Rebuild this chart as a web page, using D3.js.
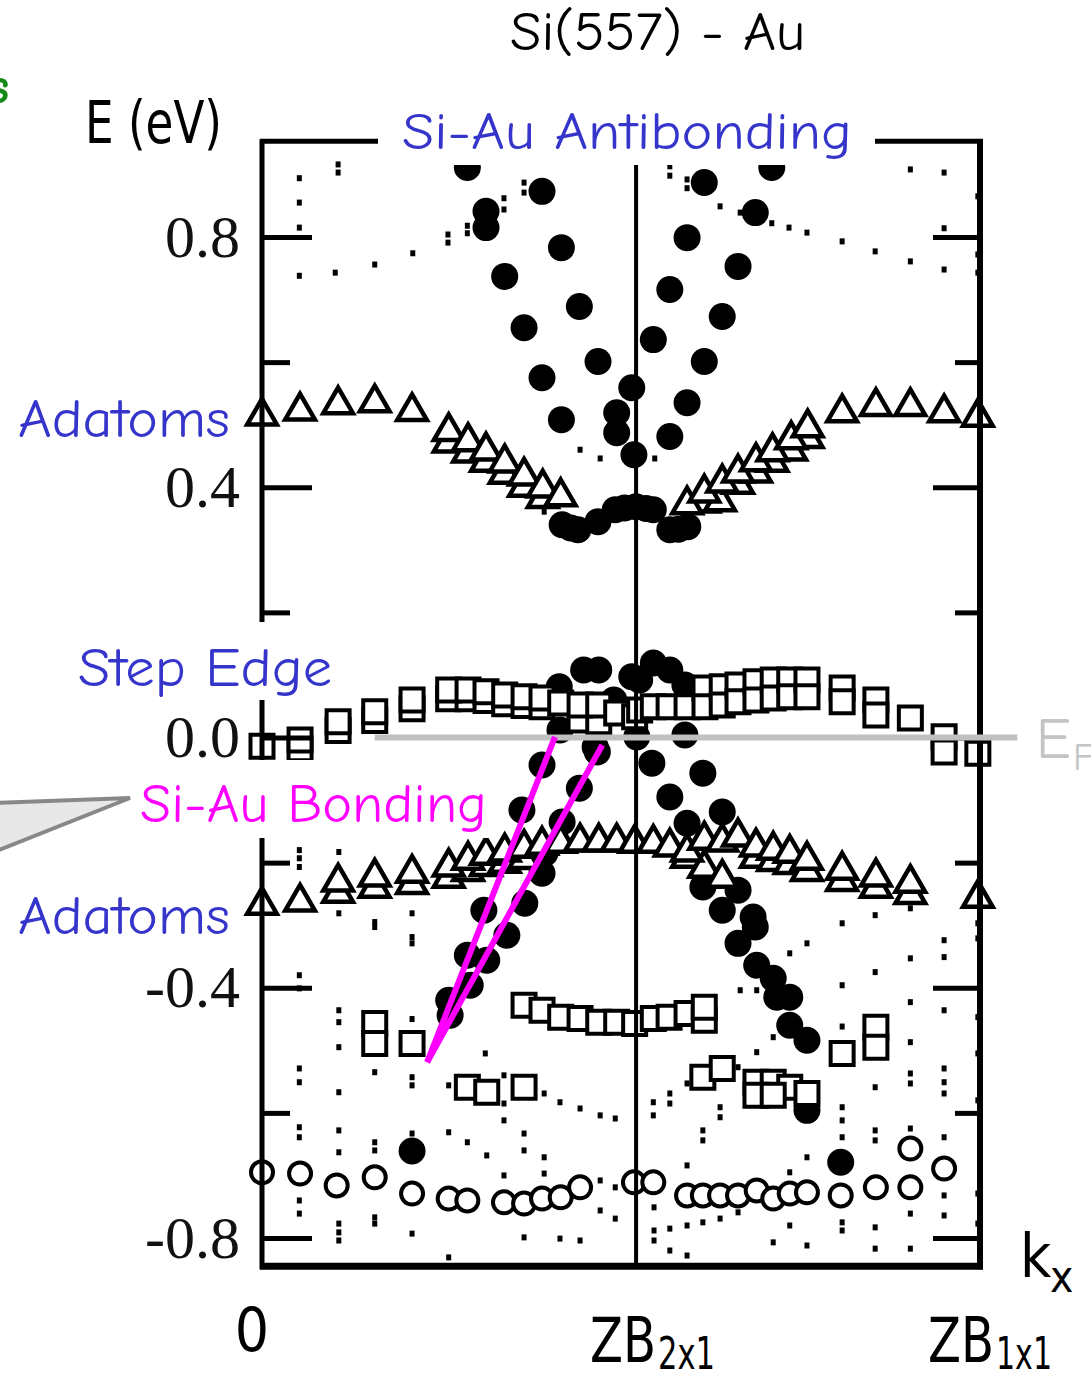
<!DOCTYPE html>
<html>
<head>
<meta charset="utf-8">
<script src="https://cdn.jsdelivr.net/npm/d3@7"></script>
<style>
  body { margin: 0; background: #fff; }
</style>
</head>
<body>
<div id="chart"></div>
<script>
// band points: [k (ZB1x1 = 1), E (eV)]
const antibonding = [
  [0.286,0.911],[0.312,0.841],[0.312,0.815],[0.390,0.873],[0.417,0.783],[0.338,0.737],
  [0.442,0.689],[0.365,0.655],[0.468,0.601],[0.390,0.575],[0.417,0.508],[0.515,0.559],
  [0.494,0.519],[0.494,0.487],[0.518,0.452],
  [0.710,0.911],[0.616,0.887],[0.687,0.839],[0.592,0.799],[0.663,0.753],[0.568,0.716],
  [0.641,0.673],[0.545,0.636],[0.616,0.601],[0.592,0.535],[0.568,0.481]
];
const antibondingMin = [
  [0.418,0.340],[0.430,0.335],[0.440,0.332],[0.468,0.345],[0.492,0.364],[0.505,0.367],
  [0.521,0.369],[0.535,0.366],[0.545,0.364],[0.568,0.332],[0.580,0.333],[0.593,0.337]
];
const bondingTop = [
  [0.414,0.081],[0.448,0.108],[0.469,0.108],[0.490,0.060],[0.515,0.097],[0.526,0.092],
  [0.545,0.119],[0.568,0.108],[0.589,0.084],[0.415,0.012],[0.464,-0.015],[0.522,0.001],
  [0.589,0.004]
];
const bondingLeft = [
  [0.390,-0.044],[0.362,-0.116],[0.309,-0.276],[0.286,-0.348],[0.290,-0.396],[0.260,-0.420],
  [0.262,-0.444],
  [0.467,-0.023],[0.442,-0.081],[0.418,-0.135],[0.394,-0.185],[0.390,-0.217],[0.366,-0.265],
  [0.341,-0.316],[0.313,-0.356]
];
const bondingRight = [
  [0.543,-0.041],[0.614,-0.057],[0.568,-0.095],[0.641,-0.119],[0.592,-0.137],[0.614,-0.239],
  [0.663,-0.244],[0.641,-0.276],[0.684,-0.287],[0.687,-0.303],[0.663,-0.329],[0.689,-0.364],
  [0.712,-0.385],[0.717,-0.415],[0.735,-0.415],[0.735,-0.460],[0.759,-0.484],[0.759,-0.596]
];
const filledSingles = [[0.209,-0.661],[0.806,-0.679]];

const adatomUpper = [
  [0,0.514],[0.053,0.522],[0.106,0.532],[0.157,0.535],[0.209,0.521],
  [0.260,0.471],[0.287,0.455],[0.312,0.440],[0.338,0.421],[0.365,0.400],[0.391,0.382],
  [0.260,0.489],[0.287,0.473],[0.312,0.458],[0.338,0.439],[0.365,0.418],[0.391,0.399],[0.416,0.385],
  [0.616,0.375],[0.638,0.377],[0.663,0.405],[0.688,0.423],[0.711,0.440],[0.737,0.458],[0.760,0.478],
  [0.592,0.372],[0.616,0.391],[0.641,0.407],[0.663,0.423],[0.688,0.441],[0.711,0.457],[0.737,0.476],
  [0.760,0.495],[0.808,0.519],[0.855,0.529],[0.903,0.529],[0.950,0.519],[0.997,0.512]
];
const adatomLower = [
  [0.106,-0.249],[0.157,-0.241],[0.209,-0.235],[0.260,-0.225],[0.287,-0.214],[0.312,-0.206],
  [0.338,-0.201],[0.365,-0.195],[0.592,-0.193],[0.616,-0.209],[0.641,-0.225],[0.688,-0.193],
  [0.712,-0.198],[0.735,-0.203],[0.759,-0.214],[0.808,-0.230],[0.855,-0.241],[0.903,-0.251],
  [0,-0.268],[0.053,-0.263],[0.106,-0.231],[0.157,-0.223],[0.209,-0.217],[0.260,-0.207],
  [0.287,-0.196],[0.312,-0.188],[0.338,-0.183],[0.365,-0.177],[0.390,-0.172],[0.416,-0.169],
  [0.443,-0.167],[0.469,-0.167],[0.494,-0.167],[0.519,-0.169],
  [0.545,-0.169],[0.568,-0.175],[0.592,-0.183],[0.616,-0.164],[0.641,-0.167],[0.663,-0.159],
  [0.688,-0.175],[0.712,-0.180],[0.735,-0.185],[0.759,-0.196],[0.808,-0.212],[0.855,-0.223],
  [0.903,-0.233],[0.997,-0.257]
];

const stepEdge = [
  [0.053,-0.018],[0.106,0.011],[0.157,0.027],[0.209,0.046],[0.260,0.062],[0.287,0.062],
  [0.312,0.059],[0.338,0.054],[0.365,0.051],[0.390,0.049],[0.443,0.028],[0.469,0.025],
  [0,-0.014],[0.053,-0.004],[0.106,0.025],[0.157,0.041],[0.209,0.060],[0.260,0.076],
  [0.287,0.076],[0.312,0.073],[0.338,0.068],[0.365,0.065],[0.390,0.063],[0.416,0.055],
  [0.443,0.052],[0.469,0.052],[0.494,0.039],[0.519,0.033],
  [0.526,0.044],[0.545,0.049],[0.567,0.049],[0.592,0.049],[0.617,0.079],[0.617,0.049],
  [0.641,0.081],[0.641,0.052],[0.663,0.084],[0.663,0.057],[0.688,0.089],[0.688,0.060],
  [0.712,0.092],[0.712,0.063],[0.735,0.092],[0.735,0.065],[0.759,0.092],[0.759,0.065],
  [0.808,0.079],[0.808,0.057],[0.855,0.060],[0.855,0.036],[0.903,0.031],[0.950,0.001],
  [0.950,-0.023],[0.997,-0.025]
];
const lowerSquares = [
  [0.157,-0.457],[0.157,-0.489],[0.209,-0.489],[0.365,-0.428],[0.390,-0.436],[0.416,-0.447],
  [0.443,-0.449],[0.469,-0.455],[0.494,-0.455],[0.519,-0.457],[0.545,-0.449],[0.567,-0.447],
  [0.592,-0.441],[0.616,-0.452],[0.616,-0.431],[0.808,-0.505],[0.855,-0.463],[0.855,-0.495],
  [0.286,-0.559],[0.313,-0.567],[0.365,-0.559],[0.614,-0.543],[0.641,-0.529],[0.688,-0.551],
  [0.712,-0.551],[0.735,-0.559],[0.759,-0.569],[0.688,-0.572],[0.712,-0.572]
];
const openCircles = [
  [0,-0.695],[0.053,-0.697],[0.104,-0.716],[0.157,-0.703],[0.209,-0.729],[0.260,-0.737],
  [0.286,-0.740],[0.337,-0.743],[0.365,-0.745],[0.390,-0.737],[0.416,-0.735],[0.443,-0.719],
  [0.518,-0.711],[0.545,-0.711],[0.592,-0.732],[0.614,-0.732],[0.638,-0.732],[0.663,-0.732],
  [0.689,-0.724],[0.712,-0.737],[0.735,-0.729],[0.759,-0.727],[0.806,-0.732],[0.855,-0.719],
  [0.903,-0.719],[0.903,-0.657],[0.950,-0.689]
];
const bulkDots = [
  [0.052,0.894],[0.052,0.855],[0.052,0.815],[0.052,0.738],[0.106,0.916],[0.106,0.903],
  [0.102,0.743],[0.157,0.756],[0.210,0.774],[0.259,0.804],[0.259,0.791],[0.286,0.818],
  [0.286,0.806],[0.337,0.862],[0.337,0.844],[0.365,0.887],[0.365,0.871],[0.443,0.460],
  [0.471,0.446],[0.393,0.361],[0.568,0.913],[0.568,0.898],[0.592,0.892],[0.592,0.878],
  [0.638,0.849],[0.666,0.839],[0.710,0.822],[0.734,0.815],[0.759,0.807],[0.808,0.793],
  [0.854,0.777],[0.903,0.761],[0.950,0.748],[0.903,0.908],[0.950,0.903],[0.997,0.865],
  [0.950,0.814],[0.997,0.772],[0.997,0.743],[0.547,0.446],
  [0.052,-0.180],[0.052,-0.193],[0.052,-0.207],[0.107,-0.183],[0.107,-0.281],[0.209,-0.281],
  [0.157,-0.295],[0.157,-0.303],[0.209,-0.319],[0.209,-0.329],[0.052,-0.380],[0.052,-0.401],
  [0.107,-0.436],[0.107,-0.455],[0.107,-0.495],[0.209,-0.450],[0.052,-0.529],[0.052,-0.551],
  [0.107,-0.567],[0.157,-0.535],[0.209,-0.543],[0.209,-0.556],[0.052,-0.623],[0.052,-0.639],
  [0.107,-0.628],[0.107,-0.663],[0.157,-0.647],[0.157,-0.660],[0.209,-0.633],[0.260,-0.631],
  [0.286,-0.647],[0.313,-0.668],[0.337,-0.612],[0.337,-0.585],[0.365,-0.633],[0.365,-0.660],
  [0.393,-0.569],[0.415,-0.583],[0.443,-0.593],[0.471,-0.604],[0.492,-0.609],[0.393,-0.671],
  [0.337,-0.700],[0.393,-0.697],[0.471,-0.708],[0.492,-0.719],[0.471,-0.756],[0.492,-0.769],
  [0.052,-0.740],[0.052,-0.761],[0.107,-0.777],[0.107,-0.791],[0.107,-0.804],[0.157,-0.767],
  [0.157,-0.777],[0.209,-0.793],[0.365,-0.799],[0.415,-0.801],[0.443,-0.804],[0.260,-0.831],
  [0.311,-0.505],[0.337,-0.540],[0.260,-0.556],
  [0.808,-0.297],[0.854,-0.284],[0.903,-0.273],[0.950,-0.324],[0.950,-0.351],[0.903,-0.353],
  [0.854,-0.375],[0.808,-0.396],[0.759,-0.329],[0.735,-0.345],[0.903,-0.423],[0.950,-0.436],
  [0.808,-0.462],[0.903,-0.487],[0.950,-0.529],[0.950,-0.551],[0.950,-0.569],[0.903,-0.537],
  [0.903,-0.553],[0.854,-0.559],[0.808,-0.591],[0.808,-0.612],[0.808,-0.639],[0.854,-0.628],
  [0.854,-0.644],[0.903,-0.625],[0.950,-0.639],[0.759,-0.671],[0.735,-0.695],[0.712,-0.479],
  [0.689,-0.503],[0.666,-0.404],[0.689,-0.404],[0.663,-0.527],[0.638,-0.591],[0.638,-0.607],
  [0.614,-0.628],[0.614,-0.644],[0.592,-0.684],[0.568,-0.569],[0.568,-0.585],[0.545,-0.583],
  [0.545,-0.604],[0.592,-0.553],[0.546,-0.751],[0.568,-0.785],[0.592,-0.780],[0.614,-0.775],
  [0.638,-0.769],[0.546,-0.788],[0.546,-0.804],[0.568,-0.820],[0.592,-0.828],[0.663,-0.759],
  [0.735,-0.780],[0.712,-0.807],[0.759,-0.812],[0.808,-0.775],[0.808,-0.788],[0.854,-0.783],
  [0.854,-0.817],[0.903,-0.761],[0.903,-0.817],[0.950,-0.732],[0.950,-0.764],[0.997,-0.297],
  [0.997,-0.321],[0.997,-0.447],[0.997,-0.505],[0.997,-0.580],[0.997,-0.729],[0.997,-0.777]
];

// magenta guide lines for the Si-Au bonding band
const bondingGuides = [
  [[0.230,-0.519],[0.408,0.001]],
  [[0.230,-0.519],[0.474,-0.012]]
];
const fermiLine = [[0.157,0],[1.052,0]];

const majorTicks = [-0.8,-0.4,0,0.4,0.8];
const minorTicks = [-0.6,-0.2,0.2,0.6];
const kDomain = [0, 1];
const eRange = [-0.845, 0.953];
const zb2x1 = 0.521;

const W = 1091, H = 1376;
const comic = "'Comic Sans MS','Comic Neue','DejaVu Sans',sans-serif";
const gill = "'Gill Sans','Liberation Sans Narrow','DejaVu Sans Condensed','Roboto',sans-serif";
const blue = "#3535cc";

const svg = d3.select("#chart").append("svg")
  .attr("width", W).attr("height", H);

const x = d3.scaleLinear().domain(kDomain).range([262, 980]);
const y = d3.scaleLinear().domain([-0.8, 0.8]).range([1238, 237]);

const plot = svg.append("g");

// bulk projected bands (small dots)
plot.selectAll(".dot").data(bulkDots).enter().append("rect")
  .attr("x", d => x(d[0]) - 2.5).attr("y", d => y(d[1]) - 3)
  .attr("width", 5).attr("height", 6).attr("fill", "#000");

// filled circles
const filled = antibonding.concat(antibondingMin, bondingTop, bondingLeft, bondingRight, filledSingles);
plot.selectAll(".fc").data(filled).enter().append("circle")
  .attr("cx", d => x(d[0])).attr("cy", d => y(d[1])).attr("r", 13.5)
  .attr("fill", "#000");

// squares
const sq = d3.symbol().type(d3.symbolSquare).size(23 * 23);
plot.selectAll(".sq").data(stepEdge.concat(lowerSquares)).enter().append("path")
  .attr("d", sq).attr("transform", d => `translate(${x(d[0])},${y(d[1])})`)
  .attr("fill", "#fff").attr("stroke", "#000").attr("stroke-width", 4);

// triangles
const tri = d3.symbol().type(d3.symbolTriangle).size(380);
plot.selectAll(".tri").data(adatomUpper.concat(adatomLower)).enter().append("path")
  .attr("d", tri).attr("transform", d => `translate(${x(d[0])},${y(d[1])})`)
  .attr("fill", "#fff").attr("stroke", "#000").attr("stroke-width", 4.5);

// open circles
plot.selectAll(".oc").data(openCircles).enter().append("circle")
  .attr("cx", d => x(d[0])).attr("cy", d => y(d[1])).attr("r", 11)
  .attr("fill", "#fff").attr("stroke", "#000").attr("stroke-width", 4);

// ZB 2x1 line
plot.append("line")
  .attr("x1", x(zb2x1)).attr("x2", x(zb2x1))
  .attr("y1", y(eRange[1])).attr("y2", y(eRange[0]))
  .attr("stroke", "#000").attr("stroke-width", 4);

// frame
const fx0 = x(kDomain[0]), fx1 = x(kDomain[1]), fy0 = y(eRange[1]), fy1 = y(eRange[0]);
plot.append("line").attr("x1", fx0).attr("x2", fx0).attr("y1", fy0 - 2).attr("y2", fy1 + 3)
  .attr("stroke", "#000").attr("stroke-width", 5);
plot.append("line").attr("x1", fx1).attr("x2", fx1).attr("y1", fy0 - 2).attr("y2", fy1 + 3)
  .attr("stroke", "#000").attr("stroke-width", 6);
plot.append("line").attr("x1", fx0 - 2).attr("x2", fx1 + 3).attr("y1", fy0).attr("y2", fy0)
  .attr("stroke", "#000").attr("stroke-width", 5);
plot.append("line").attr("x1", fx0 - 2).attr("x2", fx1 + 3).attr("y1", fy1).attr("y2", fy1)
  .attr("stroke", "#000").attr("stroke-width", 7);

// axes: ticks point inward
const fmt = d => d3.format(".1f")(d).replace("\u2212", "-");
const leftMajor = svg.append("g").attr("transform", `translate(${fx0},0)`)
  .call(d3.axisLeft(y).tickValues(majorTicks).tickSize(-50).tickPadding(22).tickFormat(fmt));
const leftMinor = svg.append("g").attr("transform", `translate(${fx0},0)`)
  .call(d3.axisLeft(y).tickValues(minorTicks).tickSize(-28).tickFormat(""));
const rightMajor = svg.append("g").attr("transform", `translate(${fx1},0)`)
  .call(d3.axisRight(y).tickValues(majorTicks).tickSize(-47).tickFormat(""));
const rightMinor = svg.append("g").attr("transform", `translate(${fx1},0)`)
  .call(d3.axisRight(y).tickValues(minorTicks).tickSize(-25).tickFormat(""));
[leftMajor, leftMinor, rightMajor, rightMinor].forEach(g => {
  g.select(".domain").remove();
  g.selectAll("line").attr("stroke", "#000").attr("stroke-width", 5);
});
leftMajor.selectAll("text")
  .attr("font-family", "'Liberation Serif','DejaVu Serif',serif")
  .attr("font-size", 60).attr("fill", "#111");

// Fermi level
const line = d3.line().x(d => x(d[0])).y(d => y(d[1]));
svg.append("path").attr("d", line(fermiLine))
  .attr("stroke", "#c0c0c0").attr("stroke-width", 6).attr("fill", "none");

// white boxes behind labels
const box = (x0, y0, w, h) => svg.append("rect")
  .attr("x", x0).attr("y", y0).attr("width", w).attr("height", h).attr("fill", "#fff");
box(378, 92, 497, 73);
box(68, 622, 282, 78);
box(128, 760, 366, 78);

// magenta guides
svg.selectAll(".guide").data(bondingGuides).enter().append("path")
  .attr("d", line).attr("stroke", "#ff00ff").attr("stroke-width", 6)
  .attr("fill", "none");

// callout tail on the left edge
svg.append("polygon").attr("points", "-6,803 130,798 -6,852")
  .attr("fill", "#e8e8e8").attr("stroke", "#888").attr("stroke-width", 4);

// text
function label(txt, px, py, size, color, family, len) {
  const t = svg.append("text").attr("x", px).attr("y", py)
    .attr("font-size", size).attr("fill", color).attr("font-family", family)
    .text(txt);
  if (len) t.attr("textLength", len).attr("lengthAdjust", "spacingAndGlyphs");
  return t;
}
label("s", -12, 103, 50, "#168a16", comic).attr("font-weight", "bold");
label("Si(557) - Au", 510, 50, 54, "#000", comic, 295);
label("E (eV)", 85, 143, 58, "#000", gill, 137);
label("Si-Au Antibonding", 402, 149, 52, blue, comic, 450);
label("Adatoms", 18, 437, 54, blue, comic, 212);
label("Step Edge", 78, 686, 54, blue, comic, 254);
label("Si-Au Bonding", 140, 822, 54, "#ff00ff", comic, 347);
label("Adatoms", 18, 934, 54, blue, comic, 212);

label("E", 1036, 758, 58, "#c4c4c4", comic);
label("F", 1073, 770, 38, "#c4c4c4", comic);

label("k", 1020, 1277, 60, "#000", gill);
label("x", 1050, 1292, 44, "#000", gill);

label("0", 252, 1351, 60, "#000", gill).attr("text-anchor", "middle");

label("ZB", 590, 1362, 62, "#000", gill, 66);
label("2x1", 658, 1369, 44, "#000", gill, 57);
label("ZB", 928, 1362, 62, "#000", gill, 66);
label("1x1", 996, 1369, 44, "#000", gill, 56);
</script>
</body>
</html>
